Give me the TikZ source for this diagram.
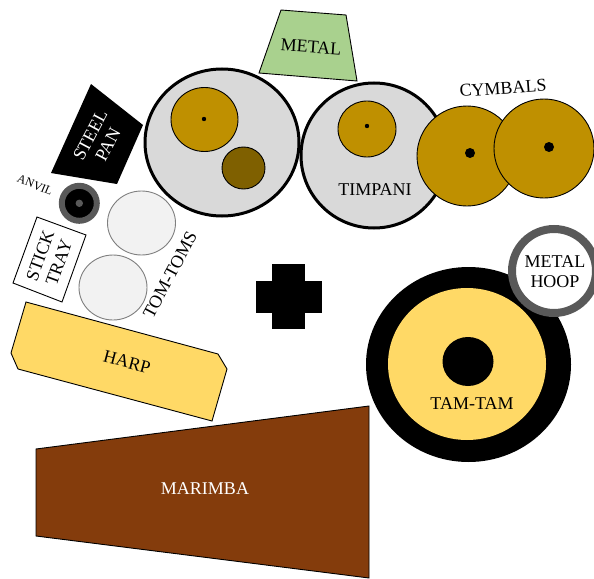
\documentclass[tikz,border=0pt]{standalone}
\usepackage{fontspec}
\setmainfont{Liberation Serif}
\usetikzlibrary{shapes.geometric}

\definecolor{drumgray}{HTML}{D9D9D9}
\definecolor{cymbalgold}{HTML}{BF9000}
\definecolor{darkbrown}{HTML}{7F6000}
\definecolor{metalgreen}{HTML}{A9D18E}
\definecolor{harpyellow}{HTML}{FFD966}
\definecolor{marimbabrown}{HTML}{843C0C}
\definecolor{tomfill}{HTML}{F2F2F2}
\definecolor{tomline}{HTML}{7F7F7F}
\definecolor{ringgray}{HTML}{595959}

\begin{document}
\begin{tikzpicture}[x=1pt, y=-1pt, font=\fontsize{18}{20}\selectfont,
    drumhead/.style={draw=black, line width=3pt, fill=drumgray},
    thin outline/.style={draw=black, line width=0.9pt},
    lbl/.style={inner sep=0pt, align=center}]
  \useasboundingbox (0,0) rectangle (594,578);
  \clip (0,0) rectangle (594,578);

  % metal plate
  \draw[thin outline, fill=metalgreen] (281,10) -- (346,15) -- (357,81) -- (259,73) -- cycle;
  \node[lbl, rotate=-4] (metal) at (311,47) {METAL};

  % big drum, left
  \draw[drumhead] (222,142.5) ellipse [x radius=77, y radius=73.5];
  \draw[thin outline, fill=cymbalgold] (204.5,119.5) ellipse [x radius=33.5, y radius=32];
  \fill (204,119) circle (2.2);
  \draw[thin outline, fill=darkbrown] (243.5,168) ellipse [x radius=21.5, y radius=21];

  % timpani
  \draw[drumhead] (374,155.5) ellipse [x radius=73, y radius=72.5];
  \draw[thin outline, fill=cymbalgold] (367,129) ellipse [x radius=29, y radius=28];
  \fill (367,126) circle (2.2);
  \node[lbl] (timpani) at (375,190) {TIMPANI};

  % cymbals
  \draw[thin outline, fill=cymbalgold] (467,156) ellipse [x radius=50, y radius=50];
  \fill (470,153) circle (5);
  \draw[thin outline, fill=cymbalgold] (544,148.5) ellipse [x radius=50, y radius=49.5];
  \fill (549,147) circle (5);
  \node[lbl, rotate=4] (cymbals) at (503,88) {CYMBALS};

  % steel pan
  \fill (91,84) -- (143,125) -- (117,184) -- (51,173) -- cycle;
  \node[lbl, white, rotate=62] (steelpan) at (99,140) {STEEL\\PAN};

  % anvil
  \draw[ringgray, line width=6pt, fill=black] (79.3,203.3) circle (17.5);
  \fill[ringgray] (79.3,203.3) circle (3.7);
  \node[lbl, font=\fontsize{12}{14}\selectfont, rotate=-23] (anvil) at (35,185) {ANVIL};

  % tom-toms
  \draw[tomline, line width=0.9pt, fill=tomfill] (141.5,223) ellipse [x radius=34, y radius=32];
  \draw[tomline, line width=0.9pt, fill=tomfill] (113,287.5) ellipse [x radius=34, y radius=32.5];
  \node[lbl, rotate=62] (tomtoms) at (170,275) {TOM-TOMS};

  % stick tray
  \draw[thin outline, fill=white] (37,217) -- (86,235) -- (62,302) -- (13,283) -- cycle;
  \node[lbl, rotate=70] (sticktray) at (49.5,259) {STICK\\TRAY};

  % harp
  \draw[thin outline, fill=harpyellow] (26,302) -- (218,354) -- (227,369) -- (212,421) -- (18,369) -- (11,353) -- cycle;
  \node[lbl, rotate=-15] (harp) at (127,362) {HARP};

  % conductor
  \fill (272,264) rectangle (305,329);
  \fill (256,281) rectangle (322,313);

  % tam-tam
  \fill (468.5,364.5) ellipse [x radius=102.5, y radius=97.5];
  \fill[harpyellow] (467,364) ellipse [x radius=79, y radius=76];
  \fill (468,361.5) ellipse [x radius=25.5, y radius=24.5];
  \node[lbl] (tamtam) at (472,404) {TAM-TAM};

  % metal hoop
  \draw[ringgray, line width=8pt, fill=white] (554,271) circle (42);
  \node[lbl] (metalhoop) at (555,272) {METAL\\HOOP};

  % marimba
  \draw[thin outline, fill=marimbabrown] (36,449) -- (369,406) -- (369,578) -- (36,536) -- cycle;
  \node[lbl, white] (marimba) at (205,489) {MARIMBA};
\end{tikzpicture}
\end{document}
